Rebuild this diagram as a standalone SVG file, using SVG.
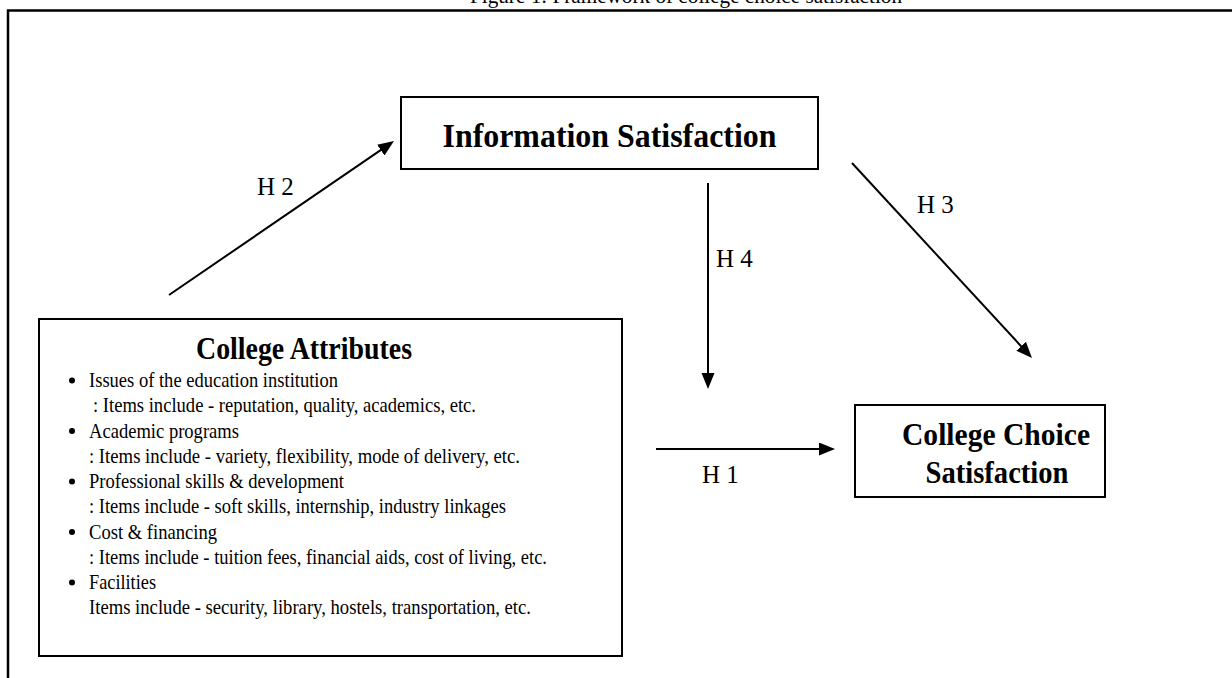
<svg xmlns="http://www.w3.org/2000/svg" width="1232" height="678" viewBox="0 0 1232 678">
<style>
.frame{fill:none;stroke:#000;stroke-width:2.5}
.box{fill:#fff;stroke:#000;stroke-width:2}
.t{font-family:"Liberation Serif","Times New Roman",serif;fill:#000}
.b{font-weight:bold}
.conn{stroke:#000;stroke-width:2;fill:none}
.lbl{font-size:25px}
.li{font-size:21.5px}
</style>
<defs>
<marker id="ah" markerUnits="userSpaceOnUse" markerWidth="18" markerHeight="14" refX="6" refY="6.5" orient="auto">
<path d="M0,0 L16,6.5 L0,13 z" fill="#000"/>
</marker>
</defs>
<rect width="1232" height="678" fill="#fff"/>
<text class="t" x="686" y="3" font-size="22" text-anchor="middle" textLength="432" lengthAdjust="spacingAndGlyphs">Figure 1: Framework of college choice satisfaction</text>
<path class="frame" d="M8,678 L8,10.5 L1232,10.5"/>
<g id="info">
<rect class="box" x="401" y="97" width="417" height="72"/>
<text class="t b" x="609.5" y="147" font-size="33" text-anchor="middle" textLength="334" lengthAdjust="spacingAndGlyphs">Information Satisfaction</text>
</g>
<g id="attrs">
<rect class="box" x="39" y="319" width="583" height="337"/>
<text class="t b" x="304" y="359" font-size="32" text-anchor="middle" textLength="216" lengthAdjust="spacingAndGlyphs">College Attributes</text>
<g class="t li">
<circle cx="72" cy="380.5" r="3"/>
<circle cx="72" cy="431" r="3"/>
<circle cx="72" cy="481.5" r="3"/>
<circle cx="72" cy="532" r="3"/>
<circle cx="72" cy="582.5" r="3"/>
<text x="89" y="387" textLength="249" lengthAdjust="spacingAndGlyphs">Issues of the education institution</text>
<text x="93" y="412" textLength="383" lengthAdjust="spacingAndGlyphs">: Items include - reputation, quality, academics, etc.</text>
<text x="89" y="437.5" textLength="150" lengthAdjust="spacingAndGlyphs">Academic programs</text>
<text x="89" y="462.5" textLength="431" lengthAdjust="spacingAndGlyphs">: Items include - variety, flexibility, mode of delivery, etc.</text>
<text x="89" y="488" textLength="255" lengthAdjust="spacingAndGlyphs">Professional skills &amp; development</text>
<text x="89" y="513" textLength="417" lengthAdjust="spacingAndGlyphs">: Items include - soft skills, internship, industry linkages</text>
<text x="89" y="538.5" textLength="128" lengthAdjust="spacingAndGlyphs">Cost &amp; financing</text>
<text x="89" y="564" textLength="458" lengthAdjust="spacingAndGlyphs">: Items include - tuition fees, financial aids, cost of living, etc.</text>
<text x="89" y="589" textLength="67" lengthAdjust="spacingAndGlyphs">Facilities</text>
<text x="89" y="614" textLength="442" lengthAdjust="spacingAndGlyphs">Items include - security, library, hostels, transportation, etc.</text>
</g>
</g>
<g id="choice">
<rect class="box" x="855" y="405" width="250" height="92"/>
<text class="t b" x="996" y="445" font-size="32" text-anchor="middle" textLength="188" lengthAdjust="spacingAndGlyphs">College Choice</text>
<text class="t b" x="997" y="483" font-size="32" text-anchor="middle" textLength="143" lengthAdjust="spacingAndGlyphs">Satisfaction</text>
</g>
<g id="connectors">
<line class="conn" x1="169" y1="295" x2="385.75" y2="146.65" marker-end="url(#ah)"/>
<line class="conn" x1="708" y1="183" x2="708" y2="379" marker-end="url(#ah)"/>
<line class="conn" x1="852" y1="163" x2="1025.2" y2="350.65" marker-end="url(#ah)"/>
<line class="conn" x1="656" y1="449" x2="825" y2="449" marker-end="url(#ah)"/>
<text class="t lbl" x="257" y="195">H 2</text>
<text class="t lbl" x="716" y="267">H 4</text>
<text class="t lbl" x="917" y="213">H 3</text>
<text class="t lbl" x="702" y="483">H 1</text>
</g>
</svg>
